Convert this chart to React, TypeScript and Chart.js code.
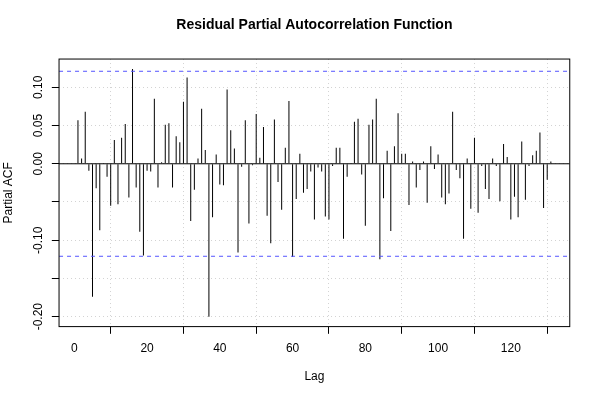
import React, { useEffect, useRef } from "react";
import { Chart, registerables } from "chart.js";

Chart.register(...registerables);

// Partial autocorrelation values for lags 1..131
const pacfValues: number[] = [
  0.057, 0.007, 0.068, -0.009, -0.174, -0.032, -0.087, 0.001, -0.017, -0.055,
  0.031, -0.053, 0.034, 0.052, -0.044, 0.124, -0.031, -0.089, -0.12, -0.009,
  -0.01, 0.085, -0.031, 0.002, 0.051, 0.053, -0.031, 0.036, 0.028, 0.081,
  0.113, -0.075, -0.034, 0.007, 0.072, 0.018, -0.2, -0.07, 0.012, -0.027,
  -0.028, 0.097, 0.044, 0.02, -0.116, -0.004, 0.057, -0.078, -0.002, 0.065,
  0.008, 0.048, -0.068, -0.104, 0.058, -0.024, -0.06, 0.021, 0.082, -0.122,
  -0.046, 0.013, -0.038, -0.033, -0.01, -0.073, -0.005, -0.01, -0.069, -0.073,
  -0.003, 0.021, 0.021, -0.098, -0.017, 0.001, 0.055, 0.059, -0.014, -0.081,
  0.051, 0.058, 0.085, -0.125, -0.045, 0.017, -0.088, 0.023, 0.066, 0.013,
  0.013, -0.054, 0.003, -0.031, -0.008, 0.003, -0.051, 0.023, -0.007, 0.012,
  -0.044, -0.053, -0.039, 0.068, -0.008, -0.019, -0.098, 0.007, -0.059, 0.034,
  -0.064, -0.003, -0.033, -0.046, 0.007, -0.003, -0.049, 0.026, 0.009, -0.073,
  -0.043, -0.07, 0.029, -0.047, -0.003, 0.011, 0.017, 0.041, -0.058, -0.021,
  0.003,
];

const confLimit = 0.121;
const xRange = [-4.2, 136.2];
const yRange = [-0.213, 0.137];
const xTickValues = [0, 20, 40, 60, 80, 100, 120];
const yTickValues = [-0.2, -0.15, -0.1, -0.05, 0, 0.05, 0.1];
const yLabelValues = [-0.2, -0.1, 0, 0.05, 0.1];
const yLabelTexts = ["-0.20", "-0.10", "0.00", "0.05", "0.10"];

const chartTitle = "Residual Partial Autocorrelation Function";
const xTitle = "Lag";
const yTitle = "Partial ACF";

const FONT = '"Liberation Sans", Arial, Helvetica, sans-serif';

const overlayPlugin = {
  id: "overlay",
  afterDraw(chart: any) {
    const { ctx, chartArea: a, scales } = chart;
    const ys = scales.y;
    ctx.save();
    ctx.strokeStyle = "#000";
    ctx.lineWidth = 1;
    ctx.setLineDash([]);
    ctx.strokeRect(a.left, a.top, a.right - a.left, a.bottom - a.top);

    ctx.fillStyle = "#000";
    ctx.font = `12px ${FONT}`;
    ctx.textAlign = "center";
    ctx.textBaseline = "middle";
    yLabelValues.forEach((v, i) => {
      const py = ys.getPixelForValue(v);
      ctx.save();
      ctx.translate(38.5, py);
      ctx.rotate(-Math.PI / 2);
      ctx.fillText(yLabelTexts[i], 0, 0);
      ctx.restore();
    });

    const cx = (a.left + a.right) / 2;
    const cy = (a.top + a.bottom) / 2;
    ctx.fillText(xTitle, cx, 376.5);
    ctx.save();
    ctx.translate(9, cy);
    ctx.rotate(-Math.PI / 2);
    ctx.fillText(yTitle, 0, 0);
    ctx.restore();

    ctx.font = `bold 14px ${FONT}`;
    ctx.fillText(chartTitle, cx, 25);
    ctx.restore();
  },
};

export default function App() {
  const canvasRef = useRef<HTMLCanvasElement | null>(null);

  useEffect(() => {
    document.body.style.margin = "0";
    const canvas = canvasRef.current;
    if (!canvas) return;
    const bars = pacfValues.map((v, i) => ({ x: i + 1, y: v }));
    const chart = new Chart(canvas, {
      type: "bar",
      data: {
        datasets: [
          {
            type: "bar",
            data: bars,
            backgroundColor: "#000",
            borderWidth: 0,
            barThickness: 1,
            inflateAmount: 0,
            order: 2,
          } as any,
          {
            type: "line",
            data: [
              { x: xRange[0], y: 0 },
              { x: xRange[1], y: 0 },
            ],
            borderColor: "#000",
            borderWidth: 1,
            pointRadius: 0,
            order: 1,
          } as any,
          {
            type: "line",
            data: [
              { x: xRange[0], y: confLimit },
              { x: xRange[1], y: confLimit },
            ],
            borderColor: "rgb(85,85,255)",
            borderWidth: 1,
            borderDash: [4, 4],
            pointRadius: 0,
            order: 1,
          } as any,
          {
            type: "line",
            data: [
              { x: xRange[0], y: -confLimit },
              { x: xRange[1], y: -confLimit },
            ],
            borderColor: "rgb(85,85,255)",
            borderWidth: 1,
            borderDash: [4, 4],
            pointRadius: 0,
            order: 1,
          } as any,
        ],
      },
      options: {
        responsive: false,
        animation: false,
        devicePixelRatio: 1,
        layout: { padding: { top: 59.04, right: 30.24, left: 0, bottom: 0 } },
        plugins: {
          legend: { display: false },
          title: { display: false },
          tooltip: { enabled: false },
        },
        scales: {
          x: {
            type: "linear",
            min: xRange[0],
            max: xRange[1],
            offset: false,
            afterBuildTicks: (s: any) => {
              s.ticks = xTickValues.map((value) => ({ value }));
            },
            afterFit: (s: any) => {
              s.height = 73.4;
            },
            ticks: {
              color: "#000",
              font: { size: 12, family: FONT },
              padding: 8,
              maxRotation: 0,
              autoSkip: false,
            },
            grid: {
              color: "#d3d3d3",
              lineWidth: 1,
              drawTicks: true,
              tickLength: 7.2,
              tickColor: "#000",
              tickWidth: 1,
              tickBorderDash: [],
            },
            border: { display: false, dash: [1, 3] },
          },
          y: {
            type: "linear",
            min: yRange[0],
            max: yRange[1],
            afterBuildTicks: (s: any) => {
              s.ticks = yTickValues.map((value) => ({ value }));
            },
            afterFit: (s: any) => {
              s.width = 59.04;
            },
            ticks: { display: false },
            grid: {
              color: "#d3d3d3",
              lineWidth: 1,
              drawTicks: true,
              tickLength: 7.2,
              tickColor: "#000",
              tickWidth: 1,
              tickBorderDash: [],
            },
            border: { display: false, dash: [1, 3] },
          },
        },
      } as any,
      plugins: [overlayPlugin],
    });
    return () => chart.destroy();
  }, []);

  return (
    <div style={{ position: "absolute", left: 0, top: 0, width: 600, height: 400 }}>
      <canvas ref={canvasRef} width={600} height={400} style={{ display: "block" }} />
    </div>
  );
}
